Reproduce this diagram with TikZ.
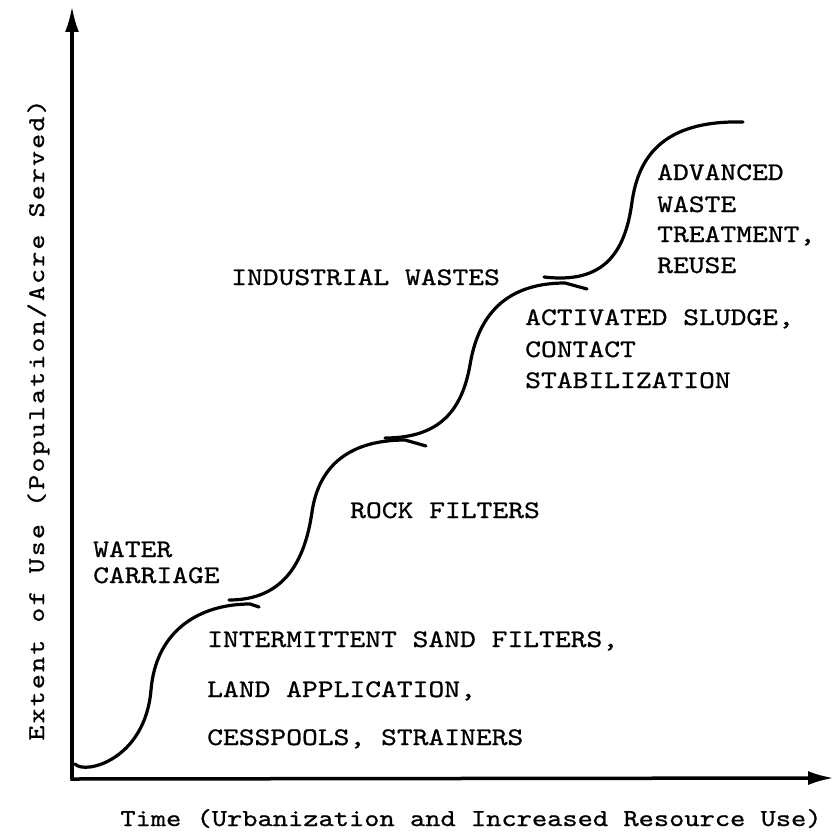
\documentclass[tikz,border=0pt]{standalone}
\usepackage{fontspec}
\newfontfamily\tw{lmmono10-regular.otf}[FakeStretch=1.19,FakeBold=0.8]
\newfontfamily\twy{lmmono10-regular.otf}[FakeStretch=1.19,FakeBold=0.8,LetterSpace=9]
\usetikzlibrary{arrows.meta}
\begin{document}
\begin{tikzpicture}[x=1pt,y=-1pt,
  lbl/.style={anchor=base west,inner sep=0pt,font=\fontsize{25.3}{30}\tw},
  axlbl/.style={inner sep=0pt,anchor=base,font=\fontsize{24.4}{30}\tw},
  axis/.style={line width=3.5pt,-{Latex[length=26pt,width=14pt]}},
  curve/.style={line width=3.2pt,line cap=round}]
\useasboundingbox[fill=white] (0,0) rectangle (834,832);
% axes
\coordinate (O) at (72,779);
\coordinate (ytop) at (72,6);
\coordinate (xend) at (834,778);
\draw[axis] (O) -- (ytop);
\draw[axis] ([xshift=-1.7pt]O) -- (xend);
% curve segments
\coordinate (s1a) at (75,764);   \coordinate (s1m) at (151,690);
\coordinate (s1b) at (250,604);  \coordinate (s1e) at (259,607);
\coordinate (s2a) at (229,600);  \coordinate (s2m) at (312,512);
\coordinate (s2b) at (405,440);  \coordinate (s2e) at (426,446);
\coordinate (s3a) at (385,438);  \coordinate (s3m) at (470,365);
\coordinate (s3b) at (565,283);  \coordinate (s3e) at (587,289);
\coordinate (s4a) at (544,277);  \coordinate (s4m) at (632,202);
\coordinate (s4e) at (743,122);
\draw[curve] (s1a) .. controls (85,775) and (145,760) .. (s1m)
  .. controls (156,630) and (200,604) .. (s1b) -- (s1e);
\draw[curve] (s2a) .. controls (285,600) and (305,560) .. (s2m)
  .. controls (318,470) and (345,440) .. (s2b) -- (s2e);
\draw[curve] (s3a) .. controls (440,438) and (462,410) .. (s3m)
  .. controls (477,322) and (500,283) .. (s3b) -- (s3e);
\draw[curve] (s4a) .. controls (603,284) and (625,254) .. (s4m)
  .. controls (638,160) and (660,120) .. (s4e);
% labels
\node[lbl] (wc1) at (93,557) {WATER};
\node[lbl] (wc2) at (93,583) {CARRIAGE};
\node[lbl] (isf) at (207,647) {INTERMITTENT SAND FILTERS,};
\node[lbl] (la) at (207,697) {LAND APPLICATION,};
\node[lbl] (cs) at (207,745) {CESSPOOLS, STRAINERS};
\node[lbl] (rf) at (350,518) {ROCK FILTERS};
\node[lbl] (iw) at (231,285) {INDUSTRIAL WASTES};
\node[lbl] (as1) at (525,325) {ACTIVATED SLUDGE,};
\node[lbl] (as2) at (525,357) {CONTACT};
\node[lbl] (as3) at (525,388) {STABILIZATION};
\node[lbl] (aw1) at (657,180) {ADVANCED};
\node[lbl] (aw2) at (657,212) {WASTE};
\node[lbl] (aw3) at (657,242) {TREATMENT,};
\node[lbl] (aw4) at (657,273) {REUSE};
\node[axlbl] (xl) at (471,826) {Time (Urbanization and Increased Resource Use)};
\node[axlbl,rotate=90,font=\fontsize{24}{30}\twy] (yl) at (44,420) {Extent of Use (Population/Acre Served)};
\end{tikzpicture}
\end{document}
